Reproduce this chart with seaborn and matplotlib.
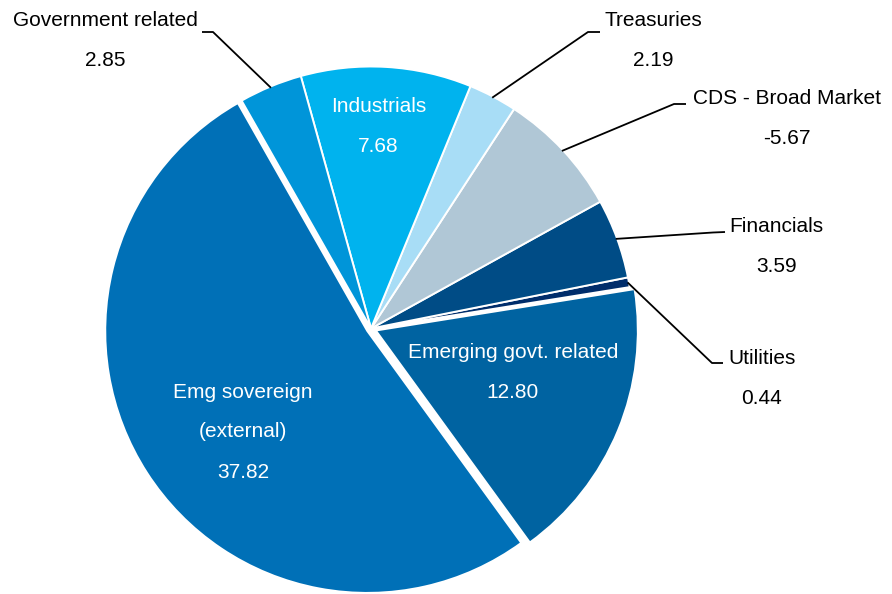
import matplotlib
matplotlib.use("Agg")
import matplotlib.pyplot as plt
import seaborn as sns
import numpy as np

# ---- data ----
categories = ["Emerging govt. related", "Utilities", "Financials", "CDS - Broad Market",
              "Treasuries", "Industrials", "Government related", "Emg sovereign\n(external)"]
values = [12.80, 0.44, 3.59, -5.67, 2.19, 7.68, 2.85, 37.82]
value_labels = ["12.80", "0.44", "3.59", "-5.67", "2.19", "7.68", "2.85", "37.82"]
colors = ["#0063A1", "#002D6B", "#004C86", "#B0C7D6", "#A8DDF6", "#00B3EE", "#0095D9", "#0070B7"]

sns.set_style("white")
plt.rcParams["font.family"] = ["Liberation Sans", "DejaVu Sans"]

W, H = 892, 594
fig = plt.figure(figsize=(W / 100, H / 100), dpi=100)
ax = fig.add_axes([0, 0, 1, 1])

R = 262.0
CX, CY = 371.0, 328.5

sizes = [abs(v) for v in values]
explode = [0.02, 0, 0, 0, 0, 0, 0, 0.017]
wedges, _ = ax.pie(sizes, colors=colors, startangle=-54, counterclock=True, radius=1,
                   explode=explode,
                   wedgeprops=dict(edgecolor="white", linewidth=1.4))

ax.set_aspect("auto")
ax.set_xlim(-CX / R, (W - CX) / R)
ax.set_ylim(-(H - CY) / R, CY / R)
ax.axis("off")


def P(px, py):
    return ((px - CX) / R, (CY - py) / R)


FS = 15

# inside labels: (index, name lines with pixel baselines, x center)
inside = {
    0: (513, [("Emerging govt. related", 358), ("12.80", 398)]),
    5: (378.5, [("Industrials", 112), ("7.68", 152.5)]),
    7: (243, [("Emg sovereign", 398), ("(external)", 437), ("37.82", 478)]),
}
for idx, (xc, lines) in inside.items():
    for txt, yb in lines:
        x, y = P(xc, yb)
        ax.text(x, y, txt, ha="center", va="baseline", fontsize=FS, color="white")

# outside labels with leader lines
outside = {
    6: ((105, 26), (105, 66), [(213, 32), (202, 32)]),
    4: ((653.5, 26), (653, 66), [(588, 32), (600, 32)]),
    3: ((787, 104), (787, 144), [(674, 104), (686, 104)]),
    2: ((776, 232), (777, 272), [(713, 232.5), (725, 232)]),
    1: ((762, 364), (761, 404), [(712, 363), (723, 363)]),
}
for idx, (npos, vpos, elbow) in outside.items():
    w = wedges[idx]
    ang = np.deg2rad((w.theta1 + w.theta2) / 2)
    sx, sy = np.cos(ang) * 0.995, np.sin(ang) * 0.995
    pts = [(sx, sy)] + [P(*e) for e in elbow]
    xs, ys = zip(*pts)
    ax.plot(xs, ys, color="black", lw=1.3, solid_capstyle="butt")
    name = categories[idx]
    x, y = P(*npos)
    ax.text(x, y, name, ha="center", va="baseline", fontsize=FS, color="black")
    x, y = P(*vpos)
    ax.text(x, y, value_labels[idx], ha="center", va="baseline", fontsize=FS, color="black")

fig.savefig("out.png", dpi=100, facecolor="white")
